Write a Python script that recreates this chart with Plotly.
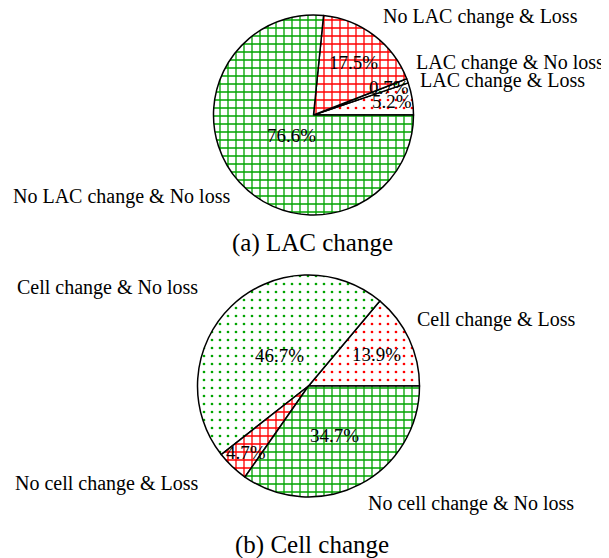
import math
import plotly.graph_objects as go

# ---- data ----
lac_labels = ["LAC change & Loss", "LAC change & No loss",
              "No LAC change & Loss", "No LAC change & No loss"]
lac_values = [5.2, 0.7, 17.5, 76.6]
cell_labels = ["Cell change & Loss", "Cell change & No loss",
               "No cell change & Loss", "No cell change & No loss"]
cell_values = [13.9, 46.7, 4.7, 34.7]
captions = ["(a) LAC change", "(b) Cell change"]

# ---- style ----
W, H = 609, 558
OFF = 8  # page body margin
RED = "#ff0000"
GREEN = "#00a400"
FONT = "Liberation Serif"
shapes_ = [".", ".", "+", "+"]
fgcols = [RED, GREEN, RED, GREEN]

# pie geometry in window pixels (cx, cy, r)
pies = [
    dict(cx=313.5, cy=115, r=100, labels=lac_labels, values=lac_values,
         frac=[0.8, 0.8, 0.66, 0.3],
         lab_pos=[(420, 81), (416, 63), (383, 17), (13, 197)],
         cap=(312, 243)),
    dict(cx=308.5, cy=386, r=111, labels=cell_labels, values=cell_values,
         frac=[0.68, 0.38, 0.82, 0.5],
         lab_pos=[(417, 320), (17, 287), (15, 483), (368, 503)],
         cap=(312, 545)),
]


def px(x):
    return (x - OFF) / W


def py(y):
    return 1 - (y - OFF) / H


fig = go.Figure()
annotations = []
for i, p in enumerate(pies):
    total = sum(p["values"])
    # plotly places the first counterclockwise slice ending at `rotation`;
    # shift so that it starts at 3 o'clock
    rot = 90 - 360 * p["values"][0] / total
    fig.add_trace(go.Pie(
        labels=p["labels"], values=p["values"], sort=False,
        direction="counterclockwise", rotation=rot,
        textinfo="none", hoverinfo="label+percent", showlegend=False,
        domain=dict(x=[px(p["cx"] - p["r"]), px(p["cx"] + p["r"])],
                    y=[py(p["cy"] + p["r"]), py(p["cy"] - p["r"])]),
        marker=dict(
            colors=["white"] * 4,
            line=dict(color="black", width=1.5),
            pattern=dict(shape=shapes_, fgcolor=fgcols, bgcolor="white",
                         size=8, solidity=[0.09, 0.09, 0.3, 0.3]),
        ),
    ))
    cum = 0.0
    for v, f in zip(p["values"], p["frac"]):
        th = 2 * math.pi * (cum + v / 2) / total
        cum += v
        x = p["cx"] + f * p["r"] * math.cos(th)
        y = p["cy"] - f * p["r"] * math.sin(th)
        annotations.append(dict(
            x=px(x), y=py(y), xref="paper", yref="paper", showarrow=False,
            text=f"{v:.1f}%", font=dict(family=FONT, size=19, color="black"),
            xanchor="center", yanchor="middle"))
    for lab, (lx, ly) in zip(p["labels"], p["lab_pos"]):
        annotations.append(dict(
            x=px(lx - 2), y=py(ly), xref="paper", yref="paper", showarrow=False,
            text=lab, font=dict(family=FONT, size=20, color="black"),
            xanchor="left", yanchor="middle"))
    annotations.append(dict(
        x=px(p["cap"][0]), y=py(p["cap"][1]), xref="paper", yref="paper",
        showarrow=False, text=captions[i],
        font=dict(family=FONT, size=25, color="black"),
        xanchor="center", yanchor="middle"))

fig.update_layout(
    width=W, height=H, margin=dict(l=0, r=0, t=0, b=0),
    paper_bgcolor="white", plot_bgcolor="white",
    annotations=annotations,
)
fig.write_html("out.html")
